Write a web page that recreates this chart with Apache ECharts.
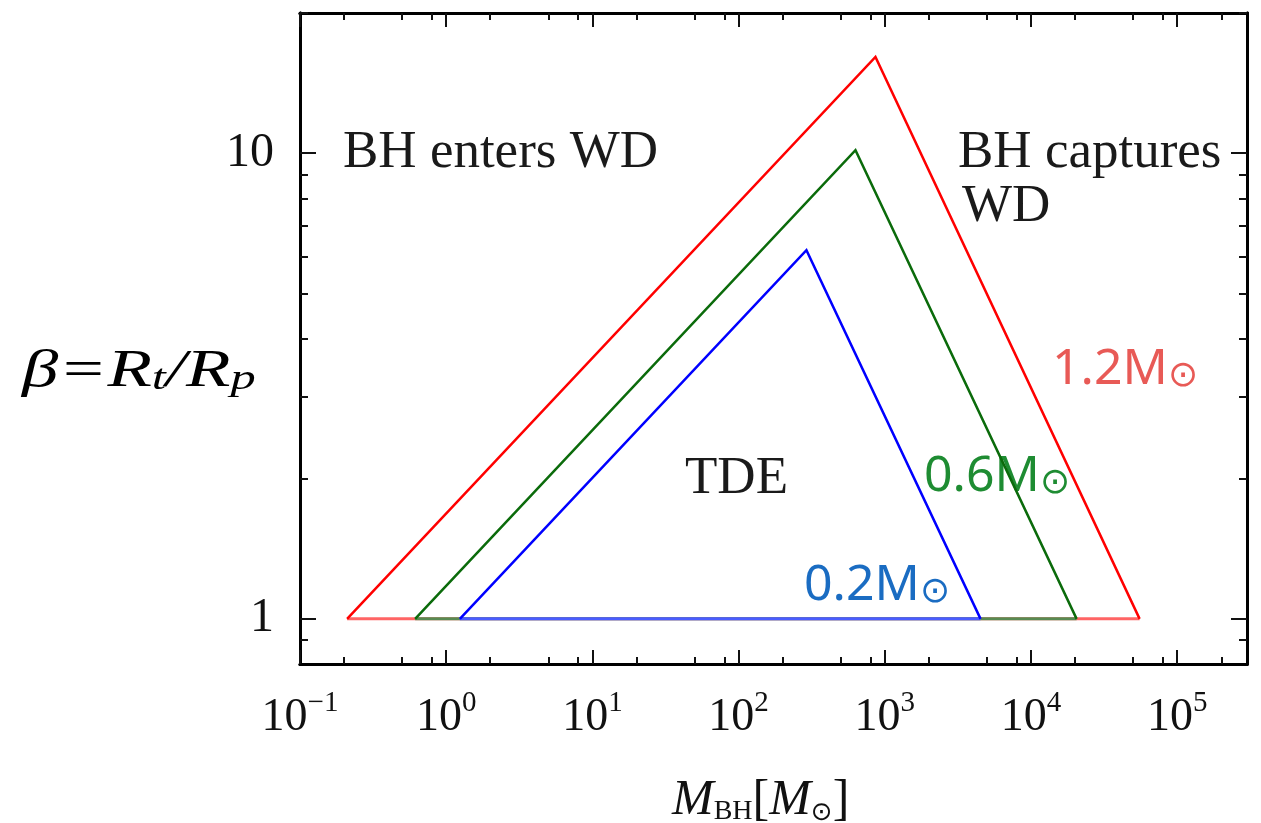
<!DOCTYPE html>
<html><head><meta charset="utf-8">
<script src="https://cdn.jsdelivr.net/npm/echarts@6/dist/echarts.min.js"></script>
<style>html,body{margin:0;padding:0;background:#fff}#c{width:1261px;height:823px}</style>
</head><body><div id="c"></div>
<script>
// White-dwarf masses (annotation labels)
const wdLabels = ['1.2M', '0.6M', '0.2M'];
// Black-hole mass M_BH [M_sun] at left base, apex, right base of each region
const mbh12 = [0.21, 863, 55300];
const beta12 = [1, 16.1, 1];
const mbh06 = [0.613, 630, 20500];
const beta06 = [1, 10.15, 1];
const mbh02 = [1.24, 291, 4515];
const beta02 = [1, 6.19, 1];
// Axis ticks
const xMajorTicks = [0.1, 1, 10, 100, 1000, 10000, 100000];
const xMinorTicks = [0.2, 0.5, 0.8, 2, 5, 8, 20, 50, 80, 200, 500, 800, 2000, 5000, 8000, 20000, 50000, 80000, 200000];
const yMajorTicks = [1, 10];
const yMinorTicks = [0.9, 2, 3, 4, 5, 6, 7, 8, 9, 20];

const lineColors = ['#ff0000', '#0b6b0b', '#0000ff'];
const baseColors = ['#ff6464', '#588a52', '#4a5cff'];
const labelColors = ['#e85a56', '#1e8c32', '#1a6cc2'];

const SERIF = 'Liberation Serif';
const X_MIN = 0.1, X_MAX = 3e5, Y_MIN = 0.8, Y_MAX = 20;

function pts(xs, ys) { return xs.map((x, i) => [x, ys[i]]); }

const groups = [[mbh12, beta12], [mbh06, beta06], [mbh02, beta02]];
const series = [];
groups.forEach((g, i) => {
  const p = pts(g[0], g[1]);
  series.push({
    type: 'line', xAxisIndex: 0, yAxisIndex: 0, symbol: 'none', silent: true,
    data: [p[0], p[2]],
    lineStyle: { color: baseColors[i], width: 3 }
  });
  series.push({
    type: 'line', xAxisIndex: 0, yAxisIndex: 0, symbol: 'none', silent: true,
    data: p,
    lineStyle: { color: lineColors[i], width: 2.5, join: 'miter' }
  });
});

function xAxisDef(pos, ticks, len, labels) {
  return {
    type: 'log', logBase: 10, min: X_MIN, max: X_MAX, position: pos,
    axisLine: { show: true, onZero: false, lineStyle: { color: '#000', width: 3 } },
    axisTick: { show: true, inside: true, length: len, customValues: ticks, lineStyle: { color: '#111', width: 2 } },
    splitLine: { show: false }, minorTick: { show: false },
    axisLabel: labels ? {
      show: true, customValues: xMajorTicks, margin: 25, color: '#111',
      formatter: function (v) {
        const e = Math.round(Math.log10(v));
        return '{b|10}{s|' + (e < 0 ? '\u2212' + (-e) : e) + '}';
      },
      rich: {
        b: { fontFamily: SERIF, fontSize: 46, lineHeight: 52, verticalAlign: 'bottom', color: '#111' },
        s: { fontFamily: SERIF, fontSize: 29, lineHeight: 24, verticalAlign: 'top', color: '#111' }
      }
    } : { show: false }
  };
}
function yAxisDef(pos, ticks, len, labels) {
  return {
    type: 'log', logBase: 10, min: Y_MIN, max: Y_MAX, position: pos,
    axisLine: { show: true, onZero: false, lineStyle: { color: '#000', width: 3 } },
    axisTick: { show: true, inside: true, length: len, customValues: ticks, lineStyle: { color: '#111', width: 2 } },
    splitLine: { show: false }, minorTick: { show: false },
    axisLabel: labels ? {
      show: true, customValues: yMajorTicks, margin: 26, color: '#111',
      fontFamily: SERIF, fontSize: 48,
      formatter: function (v) { return String(Math.round(v)); }
    } : { show: false }
  };
}

const chart = echarts.init(document.getElementById('c'), null, { renderer: 'canvas' });
chart.setOption({
  animation: false,
  backgroundColor: '#fff',
  grid: { left: 300, right: 14, top: 13, bottom: 159, containLabel: false },
  xAxis: [
    xAxisDef('bottom', xMajorTicks, 14, true),
    xAxisDef('top', xMajorTicks, 14, false),
    xAxisDef('bottom', xMinorTicks, 7, false),
    xAxisDef('top', xMinorTicks, 7, false)
  ],
  yAxis: [
    yAxisDef('left', yMajorTicks, 16, true),
    yAxisDef('right', yMajorTicks, 16, false),
    yAxisDef('left', yMinorTicks, 8, false),
    yAxisDef('right', yMinorTicks, 8, false)
  ],
  series: series,
  graphic: [
    { type: 'text', x: 343, y: 153, style: { text: 'BH enters WD', font: '53px "Liberation Serif"', fill: '#1a1a1a', verticalAlign: 'middle', align: 'left' } },
    { type: 'text', x: 958, y: 153, style: { text: 'BH captures', font: '53px "Liberation Serif"', fill: '#1a1a1a', verticalAlign: 'middle', align: 'left' } },
    { type: 'text', x: 962, y: 207, style: { text: 'WD', font: '53px "Liberation Serif"', fill: '#1a1a1a', verticalAlign: 'middle', align: 'left' } },
    { type: 'text', x: 685, y: 479, style: { text: 'TDE', font: '53px "Liberation Serif"', fill: '#1a1a1a', verticalAlign: 'middle', align: 'left' } },
    { type: 'text', x: 1052, y: 365, style: { text: '{a|' + wdLabels[0] + '}{o|\u2299}', verticalAlign: 'middle', align: 'left',
      rich: { a: { fontFamily: 'Noto Sans', fontSize: 50, lineHeight: 60, verticalAlign: 'bottom', fill: labelColors[0] },
              o: { fontFamily: 'DejaVu Sans', fontSize: 36, lineHeight: 42, verticalAlign: 'bottom', fill: labelColors[0] } } } },
    { type: 'text', x: 924, y: 472, style: { text: '{a|' + wdLabels[1] + '}{o|\u2299}', verticalAlign: 'middle', align: 'left',
      rich: { a: { fontFamily: 'Noto Sans', fontSize: 50, lineHeight: 60, verticalAlign: 'bottom', fill: labelColors[1] },
              o: { fontFamily: 'DejaVu Sans', fontSize: 36, lineHeight: 42, verticalAlign: 'bottom', fill: labelColors[1] } } } },
    { type: 'text', x: 804, y: 581, style: { text: '{a|' + wdLabels[2] + '}{o|\u2299}', verticalAlign: 'middle', align: 'left',
      rich: { a: { fontFamily: 'Noto Sans', fontSize: 50, lineHeight: 60, verticalAlign: 'bottom', fill: labelColors[2] },
              o: { fontFamily: 'DejaVu Sans', fontSize: 36, lineHeight: 42, verticalAlign: 'bottom', fill: labelColors[2] } } } },
    { type: 'text', x: 22, y: 368, scaleX: 1.4, style: { text: '{a|\u03b2=R}{s|t}{a|/R}{s|p}', verticalAlign: 'middle', align: 'left',
      rich: { a: { fontFamily: SERIF, fontStyle: 'italic', fontSize: 52, lineHeight: 60, verticalAlign: 'bottom', fill: '#000' },
              s: { fontFamily: SERIF, fontStyle: 'italic', fontSize: 36, lineHeight: 44, verticalAlign: 'bottom', fill: '#000' } } } },
    { type: 'text', x: 672, y: 796, style: { text: '{m|M}{s|BH}{n|[}{m|M}{o|\u2299}{n|]}', verticalAlign: 'middle', align: 'left',
      rich: { m: { fontFamily: SERIF, fontStyle: 'italic', fontSize: 50, lineHeight: 60, verticalAlign: 'bottom', fill: '#111' },
              s: { fontFamily: SERIF, fontSize: 28, lineHeight: 38, verticalAlign: 'bottom', fill: '#111' },
              n: { fontFamily: SERIF, fontSize: 50, lineHeight: 60, verticalAlign: 'bottom', fill: '#111' },
              o: { fontFamily: 'DejaVu Sans', fontSize: 26, lineHeight: 35, verticalAlign: 'bottom', fill: '#111' } } } }
  ]
});
</script>
</body></html>
